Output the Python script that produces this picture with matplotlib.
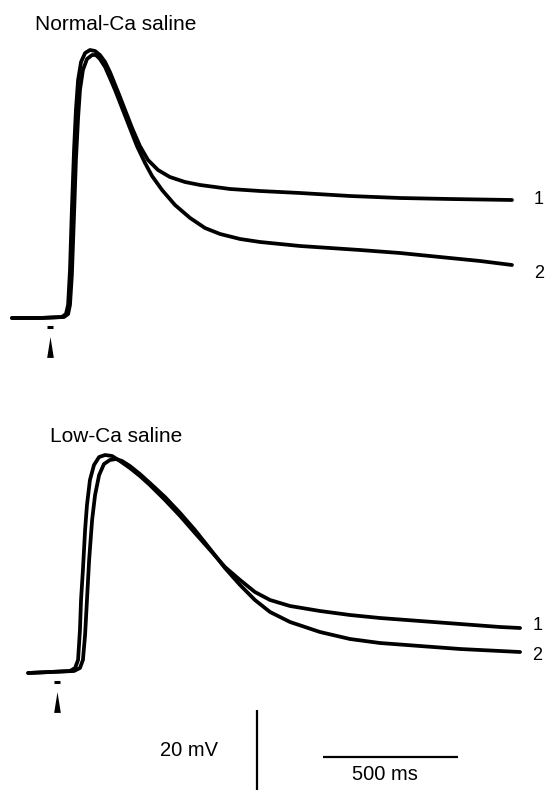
import numpy as np
import matplotlib
matplotlib.use("Agg")
import matplotlib.pyplot as plt
from matplotlib.path import Path

plt.rcParams['font.family'] = ['Liberation Sans', 'DejaVu Sans']

# ---------------- data (time in ms from stimulus, voltage in mV above rest) ----
normal_t1 = [-141, -37, 44, 59, 67, 74, 81, 89, 96, 104, 115, 130, 148, 167, 185, 204,
             222, 252, 278, 304, 333, 363, 400, 444, 500, 556, 667, 778, 926, 1111,
             1296, 1481, 1711]
normal_v1 = [0, 0, 0.25, 1, 3.25, 12, 27, 42, 52, 59.5, 64, 66.25, 67, 66.75, 65.75, 64,
             61.5, 56.5, 52, 47.5, 43, 39.5, 37, 35.25, 34, 33.25, 32.25, 31.75, 31.25,
             30.5, 30, 29.75, 29.5]

normal_t2 = [-141, -37, 52, 67, 74, 81, 89, 96, 104, 111, 122, 137, 156, 170, 185, 204,
             222, 241, 267, 293, 322, 352, 378, 415, 463, 519, 574, 630, 704, 778, 852,
             926, 1037, 1148, 1296, 1444, 1593, 1711]
normal_v2 = [0, 0, 0.25, 1, 3.25, 10.75, 25.75, 39.5, 50, 57, 62, 64.75, 65.75, 65.75,
             64.75, 62.75, 60, 57, 52.5, 48, 43, 38.75, 35.5, 32, 28.25, 25, 22.5, 21,
             19.75, 19, 18.5, 18, 17.5, 17, 16.25, 15.25, 14.25, 13.25]

low_t1 = [-107, -26, 48, 67, 78, 85, 89, 96, 104, 111, 122, 137, 156, 178, 204, 233, 270,
          307, 344, 400, 456, 511, 567, 622, 678, 733, 789, 863, 974, 1085, 1196, 1344,
          1493, 1641, 1715]
low_v1 = [0, 0.25, 0.5, 1.25, 3.25, 10.75, 18.25, 25.75, 35.75, 42, 48.25, 52, 54, 54.5,
          54.25, 53, 51.25, 49.25, 47, 43.25, 39.25, 35, 30.75, 26.5, 23.25, 20.25, 18.25,
          16.75, 15.5, 14.5, 13.75, 13, 12.25, 11.5, 11.25]

low_t2 = [-107, -26, 63, 85, 96, 104, 111, 119, 130, 141, 156, 174, 196, 219, 241, 270,
          307, 344, 400, 456, 511, 567, 622, 678, 733, 789, 863, 974, 1085, 1196, 1344,
          1493, 1641, 1715]
low_v2 = [0, 0.25, 0.5, 1.25, 3.25, 9.5, 18.25, 28.25, 38.25, 44.5, 49.5, 52.25, 53.25,
          53.5, 53, 51.75, 49.75, 47.5, 44, 40, 35.75, 31, 26.25, 22, 18.25, 15.25, 12.75,
          10.25, 8.5, 7.5, 6.75, 6, 5.5, 5.25]

panel_titles = ["Normal-Ca saline", "Low-Ca saline"]
trace_labels = ["1", "2"]
scale_mv = 20
scale_ms = 500
scale_labels = ["20 mV", "500 ms"]

# ---------------- figure -------------------------------------------------------
W, H = 545, 794
fig = plt.figure(figsize=(W / 100, H / 100), dpi=100)
fig.patch.set_facecolor('white')

PX_PER_MS = 0.27
PX_PER_MV = 4.0

def make_axes(top_px, bottom_px, x0_px, base_px):
    ax = fig.add_axes([0, 1 - bottom_px / H, 1, (bottom_px - top_px) / H])
    ax.set_xlim(-x0_px / PX_PER_MS, (W - x0_px) / PX_PER_MS)
    ax.set_ylim((base_px - bottom_px) / PX_PER_MV, (base_px - top_px) / PX_PER_MV)
    ax.axis('off')
    ax.patch.set_alpha(0)
    return ax

ax_top = make_axes(0, 400, 50, 318)
ax_bot = make_axes(400, 794, 57, 673)

arrow_marker = Path([(-0.32, -1), (0.32, -1), (0, 1), (-0.32, -1)],
                    [Path.MOVETO, Path.LINETO, Path.LINETO, Path.CLOSEPOLY])

trace_kw = dict(color='black', lw=2.7, solid_joinstyle='round', solid_capstyle='round')

for ax, (t1, v1, t2, v2), (ly1, ly2), dx in [
        (ax_top, (normal_t1, normal_v1, normal_t2, normal_v2), (29.5, 11.25), 82),
        (ax_bot, (low_t1, low_v1, low_t2, low_v2), (12.0, 4.5), 46)]:
    ax.plot(t1, v1, **trace_kw)
    ax.plot(t2, v2, **trace_kw)
    # stimulus marker
    ax.plot([-12, 12], [-2.3, -2.3], color='black', lw=2.2, solid_capstyle='butt')
    ax.plot([0], [-7.2], marker=arrow_marker, ms=15, color='black', mec='black', mew=0)
    ax.text(t1[-1] + dx, ly1, trace_labels[0], fontsize=13, ha='left', va='center')
    ax.text(t2[-1] + dx, ly2, trace_labels[1], fontsize=13, ha='left', va='center')

# scale bars
ax_bot.plot([741, 741], [-9.25, -9.25 - scale_mv], color='black', lw=1.6,
            solid_capstyle='butt')
ax_bot.plot([985, 985 + scale_ms], [-21, -21], color='black', lw=1.6,
            solid_capstyle='butt')

fig.text(35 / W, 1 - 25 / H, panel_titles[0], fontsize=15, ha='left', va='center')
fig.text(50 / W, 1 - 436 / H, panel_titles[1], fontsize=15, ha='left', va='center')
fig.text(218 / W, 1 - 751 / H, scale_labels[0], fontsize=14.5, ha='right', va='center')
fig.text(385 / W, 1 - 775 / H, scale_labels[1], fontsize=14.5, ha='center', va='center')

fig.savefig("out.png", dpi=100, facecolor='white')
